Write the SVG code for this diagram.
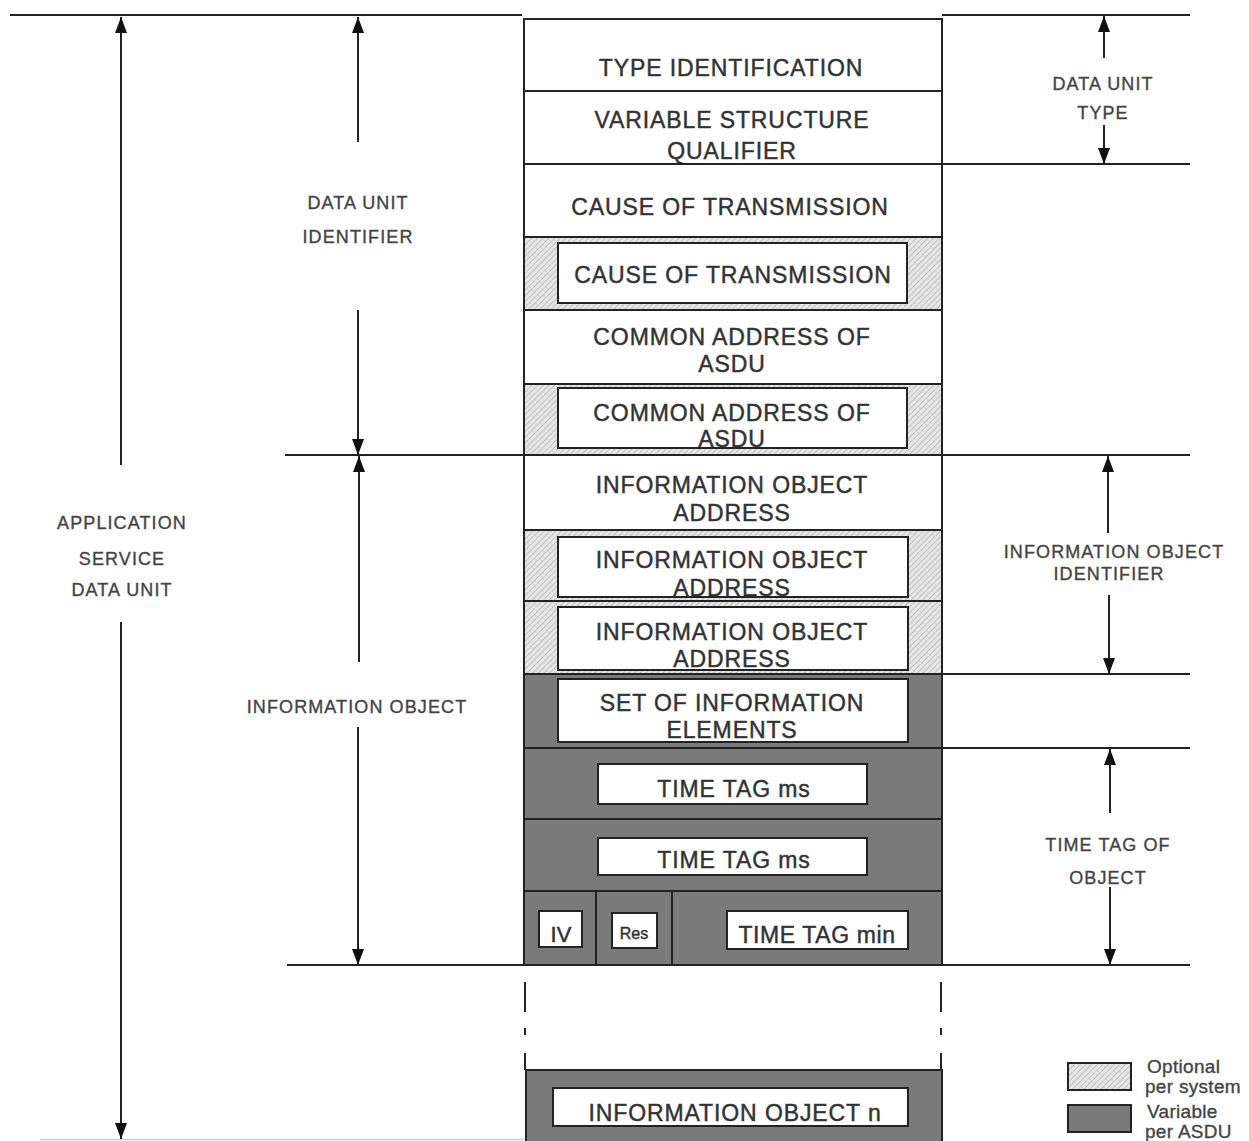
<svg xmlns="http://www.w3.org/2000/svg" width="1249" height="1141" viewBox="0 0 1249 1141">
<style>
.t{font-family:"Liberation Sans",Arial,sans-serif;font-size:23px;fill:#333;stroke:#333;stroke-width:0.45px;text-anchor:middle;letter-spacing:0.9px}
.s{font-family:"Liberation Sans",Arial,sans-serif;font-size:18px;fill:#444;stroke:#444;stroke-width:0.35px;text-anchor:middle;letter-spacing:1.1px}
.lg{font-family:"Liberation Sans",Arial,sans-serif;font-size:19px;fill:#444;stroke:#444;stroke-width:0.35px;letter-spacing:0.3px}
.row{stroke:#222;stroke-width:2}
.ln{stroke:#222;stroke-width:2;fill:none}
.wb{fill:#fff;stroke:#222;stroke-width:2}
.ar{stroke:#222;stroke-width:2;fill:none}
</style>
<defs>
<pattern id="hatch" patternUnits="userSpaceOnUse" width="4" height="4" patternTransform="rotate(45)">
<rect width="4" height="4" fill="#e6e6e6"/>
<line x1="0" y1="0" x2="0" y2="4" stroke="#a8a8a8" stroke-width="1.2"/>
</pattern>
<marker id="ah" viewBox="0 0 16 12" refX="16" refY="6" markerWidth="16" markerHeight="12" markerUnits="userSpaceOnUse" orient="auto-start-reverse">
<path d="M0,0 L16,6 L0,12 z" fill="#111"/>
</marker>
</defs>
<rect width="1249" height="1141" fill="#fff"/>

<g id="guides">
<line class="ln" x1="10" y1="15" x2="522" y2="15" stroke="#444"/>
<line class="ln" x1="942" y1="15" x2="1190" y2="15"/>
<line class="ln" x1="942" y1="164" x2="1190" y2="164"/>
<line class="ln" x1="285" y1="455" x2="1190" y2="455"/>
<line class="ln" x1="942" y1="674" x2="1190" y2="674"/>
<line class="ln" x1="942" y1="748" x2="1190" y2="748"/>
<line class="ln" x1="287" y1="965" x2="1190" y2="965"/>
<line x1="40" y1="1139.5" x2="524" y2="1139.5" stroke="#ccc" stroke-width="1.5"/>
</g>

<g id="row-type-id">
<rect class="row" x="524" y="19" width="418" height="72" fill="#fff"/>
<text class="t" x="731" y="76">TYPE IDENTIFICATION</text>
</g>
<g id="row-vsq">
<rect class="row" x="524" y="91" width="418" height="73" fill="#fff"/>
<text class="t" x="732" y="128">VARIABLE STRUCTURE</text>
<text class="t" x="732" y="159">QUALIFIER</text>
</g>
<g id="row-cot">
<rect class="row" x="524" y="164" width="418" height="73" fill="#fff"/>
<text class="t" x="730" y="215">CAUSE OF TRANSMISSION</text>
</g>
<g id="row-cot2">
<rect class="row" x="524" y="237" width="418" height="73" fill="url(#hatch)"/>
<rect class="wb" x="558" y="243" width="349" height="60"/>
<text class="t" x="733" y="283">CAUSE OF TRANSMISSION</text>
</g>
<g id="row-ca">
<rect class="row" x="524" y="310" width="418" height="74" fill="#fff"/>
<text class="t" x="732" y="345">COMMON ADDRESS OF</text>
<text class="t" x="732" y="372">ASDU</text>
</g>
<g id="row-ca2">
<rect class="row" x="524" y="384" width="418" height="71" fill="url(#hatch)"/>
<rect class="wb" x="558" y="388" width="349" height="60"/>
<text class="t" x="732" y="421">COMMON ADDRESS OF</text>
<text class="t" x="732" y="447">ASDU</text>
</g>
<g id="row-ioa">
<rect class="row" x="524" y="455" width="418" height="75" fill="#fff"/>
<text class="t" x="732" y="493">INFORMATION OBJECT</text>
<text class="t" x="732" y="521">ADDRESS</text>
</g>
<g id="row-ioa2">
<rect class="row" x="524" y="530" width="418" height="71" fill="url(#hatch)"/>
<rect class="wb" x="558" y="537" width="350" height="60"/>
<text class="t" x="732" y="568">INFORMATION OBJECT</text>
<text class="t" x="732" y="596">ADDRESS</text>
</g>
<g id="row-ioa3">
<rect class="row" x="524" y="601" width="418" height="73" fill="url(#hatch)"/>
<rect class="wb" x="558" y="607" width="350" height="63"/>
<text class="t" x="732" y="640">INFORMATION OBJECT</text>
<text class="t" x="732" y="667">ADDRESS</text>
</g>
<g id="row-sie">
<rect class="row" x="524" y="674" width="418" height="74" fill="#7a7a7a"/>
<rect class="wb" x="558" y="679" width="350" height="63"/>
<text class="t" x="732" y="711">SET OF INFORMATION</text>
<text class="t" x="732" y="738">ELEMENTS</text>
</g>
<g id="row-ttms1">
<rect class="row" x="524" y="748" width="418" height="71" fill="#7a7a7a"/>
<rect class="wb" x="598" y="764" width="269" height="40"/>
<text class="t" x="734" y="797">TIME TAG ms</text>
</g>
<g id="row-ttms2">
<rect class="row" x="524" y="819" width="418" height="72" fill="#7a7a7a"/>
<rect class="wb" x="598" y="838" width="269" height="37"/>
<text class="t" x="734" y="868">TIME TAG ms</text>
</g>
<g id="row-ttmin">
<rect class="row" x="524" y="891" width="418" height="74" fill="#7a7a7a"/>
<line class="ln" x1="596" y1="891" x2="596" y2="965"/>
<line class="ln" x1="672" y1="891" x2="672" y2="965"/>
<rect class="wb" x="539" y="911" width="43" height="36"/>
<text class="t" x="561" y="942" style="font-size:22px;letter-spacing:0">IV</text>
<rect class="wb" x="612" y="913" width="45" height="35"/>
<text class="t" x="634" y="939" style="font-size:16px;letter-spacing:0">Res</text>
<rect class="wb" x="727" y="911" width="181" height="38"/>
<text class="t" x="817" y="943" style="letter-spacing:0.6px">TIME TAG min</text>
</g>
<g id="continuation">
<line class="ln" x1="525" y1="982" x2="525" y2="1012" stroke="#555" stroke-width="2.5"/>
<line class="ln" x1="525" y1="1028" x2="525" y2="1035" stroke="#555" stroke-width="2.5"/>
<line class="ln" x1="525" y1="1053" x2="525" y2="1070" stroke="#555" stroke-width="2.5"/>
<line class="ln" x1="941" y1="982" x2="941" y2="1012" stroke="#555" stroke-width="2.5"/>
<line class="ln" x1="941" y1="1028" x2="941" y2="1035" stroke="#555" stroke-width="2.5"/>
<line class="ln" x1="941" y1="1053" x2="941" y2="1070" stroke="#555" stroke-width="2.5"/>
</g>
<g id="row-ion">
<rect class="row" x="526" y="1070" width="416" height="80" fill="#7a7a7a"/>
<rect class="wb" x="553" y="1088" width="355" height="38"/>
<text class="t" x="735" y="1121">INFORMATION OBJECT n</text>
</g>

<g id="connectors">
<line class="ar" x1="121" y1="17" x2="121" y2="465" stroke="#555" marker-start="url(#ah)"/>
<line class="ar" x1="121" y1="622" x2="121" y2="1139" stroke="#555" marker-end="url(#ah)"/>
<line class="ar" x1="358" y1="17" x2="358" y2="142" marker-start="url(#ah)"/>
<line class="ar" x1="358" y1="310" x2="358" y2="455" marker-end="url(#ah)"/>
<line class="ar" x1="359" y1="456" x2="359" y2="662" marker-start="url(#ah)"/>
<line class="ar" x1="358" y1="727" x2="358" y2="965" marker-end="url(#ah)"/>
<line class="ar" x1="1104" y1="16" x2="1104" y2="58" marker-start="url(#ah)"/>
<line class="ar" x1="1104" y1="125" x2="1104" y2="164" marker-end="url(#ah)"/>
<line class="ar" x1="1108" y1="456" x2="1108" y2="533" marker-start="url(#ah)"/>
<line class="ar" x1="1109" y1="595" x2="1109" y2="674" marker-end="url(#ah)"/>
<line class="ar" x1="1110" y1="749" x2="1110" y2="813" marker-start="url(#ah)"/>
<line class="ar" x1="1110" y1="887" x2="1110" y2="965" marker-end="url(#ah)"/>
</g>

<g id="label-asdu">
<text class="s" x="122" y="529">APPLICATION</text>
<text class="s" x="122" y="565">SERVICE</text>
<text class="s" x="122" y="596">DATA UNIT</text>
</g>
<g id="label-dui">
<text class="s" x="358" y="209">DATA UNIT</text>
<text class="s" x="358" y="243">IDENTIFIER</text>
</g>
<g id="label-io">
<text class="s" x="357" y="713">INFORMATION OBJECT</text>
</g>
<g id="label-dut">
<text class="s" x="1103" y="90">DATA UNIT</text>
<text class="s" x="1103" y="119">TYPE</text>
</g>
<g id="label-ioi">
<text class="s" x="1114" y="558">INFORMATION OBJECT</text>
<text class="s" x="1109" y="580">IDENTIFIER</text>
</g>
<g id="label-tto">
<text class="s" x="1108" y="851">TIME TAG OF</text>
<text class="s" x="1108" y="884">OBJECT</text>
</g>

<g id="legend">
<rect x="1068" y="1063" width="63" height="27" fill="url(#hatch)" stroke="#222" stroke-width="2"/>
<rect x="1068" y="1105" width="63" height="27" fill="#7a7a7a" stroke="#222" stroke-width="2"/>
<text class="lg" x="1147" y="1073">Optional</text>
<text class="lg" x="1145" y="1093">per system</text>
<text class="lg" x="1147" y="1118">Variable</text>
<text class="lg" x="1145" y="1138">per ASDU</text>
</g>
</svg>
